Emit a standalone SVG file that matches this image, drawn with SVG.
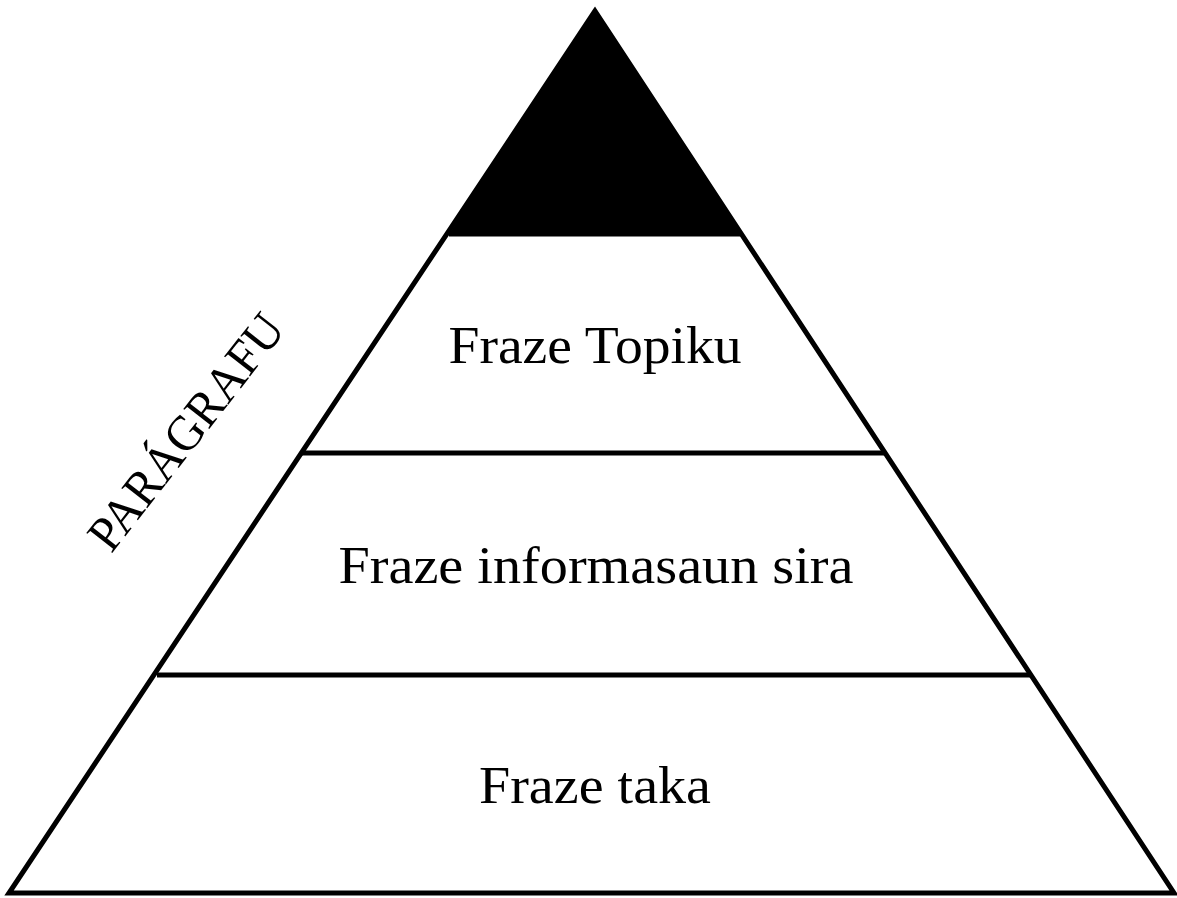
<svg xmlns="http://www.w3.org/2000/svg" width="1177" height="898" viewBox="0 0 1177 898">
<style>
.lbl{font-family:"Liberation Serif","DejaVu Serif",serif;font-size:52px;fill:#000;text-anchor:middle}
.ln{stroke:#000;stroke-width:5;fill:none}
</style>
<rect width="1177" height="898" fill="#fff"/>
<g id="apex">
<polygon points="595,11 449,234 740,234" fill="#000"/>
</g>
<g id="pyramid">
<polygon class="ln" points="595,11 9,893 1174,893" stroke-linejoin="miter"/>
</g>
<g id="connectors">
<line class="ln" x1="449" y1="234" x2="740" y2="234"/>
<line class="ln" x1="302" y1="453" x2="886" y2="453"/>
<line class="ln" x1="157" y1="675" x2="1031" y2="675"/>
</g>
<g id="topiku"><text class="lbl" x="595" y="363" textLength="293" lengthAdjust="spacingAndGlyphs">Fraze Topiku</text></g>
<g id="informasaun"><text class="lbl" x="596" y="583" textLength="515" lengthAdjust="spacingAndGlyphs">Fraze informasaun sira</text></g>
<g id="taka"><text class="lbl" x="595" y="803" textLength="232" lengthAdjust="spacingAndGlyphs">Fraze taka</text></g>
<g id="paragrafu"><text class="lbl" style="font-size:50px" x="0" y="0" textLength="285" lengthAdjust="spacingAndGlyphs" transform="translate(199,442) rotate(-52)">PARÁGRAFU</text></g>
</svg>
